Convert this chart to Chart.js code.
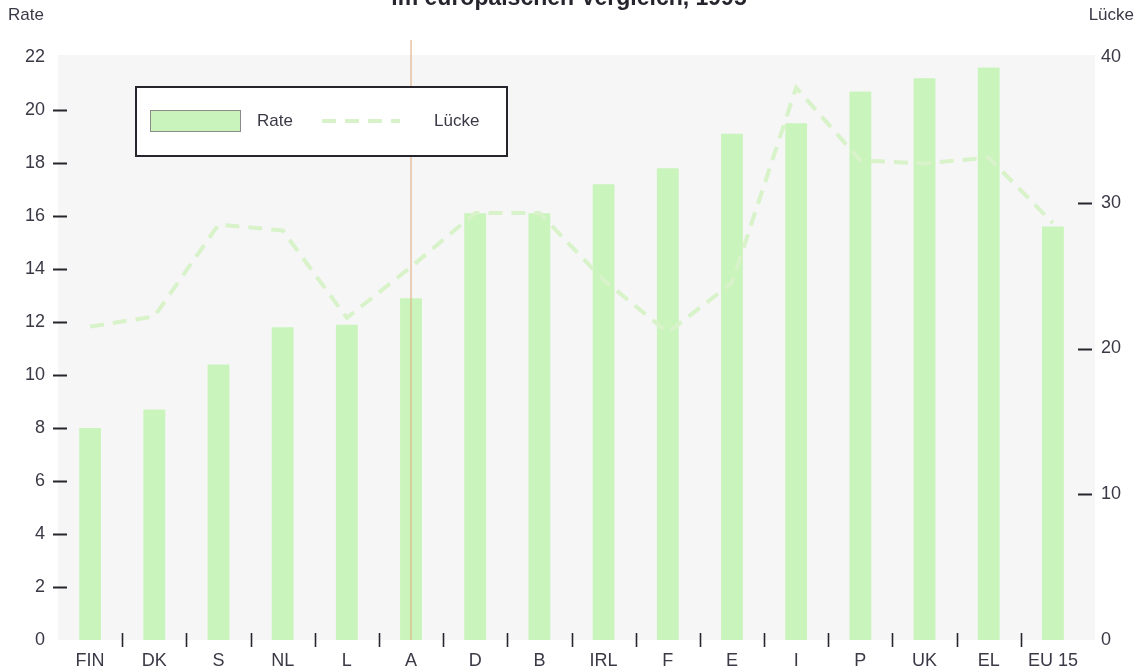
<!DOCTYPE html>
<html lang="de">
<head>
<meta charset="utf-8">
<title>Rate und Lücke</title>
<script src="https://cdn.jsdelivr.net/npm/chart.js@4/dist/chart.umd.min.js"></script>
<style>
  html, body { margin: 0; padding: 0; background: #fff; }
  #wrap { width: 1137px; height: 671px; position: relative; }
</style>
</head>
<body>
<div id="wrap"><canvas id="chart" width="1137" height="671"></canvas></div>
<script>
// categories and values
const countries = ['FIN', 'DK', 'S', 'NL', 'L', 'A', 'D', 'B', 'IRL', 'F', 'E', 'I', 'P', 'UK', 'EL', 'EU 15'];
const rate = [8.0, 8.7, 10.4, 11.8, 11.9, 12.9, 16.1, 16.1, 17.2, 17.8, 19.1, 19.5, 20.7, 21.2, 21.6, 15.6];
const luecke = [21.5, 22.2, 28.5, 28.1, 22.1, 25.6, 29.3, 29.3, 24.7, 21.1, 24.5, 37.9, 32.9, 32.7, 33.1, 28.6];
const rateTicks = [0, 2, 4, 6, 8, 10, 12, 14, 16, 18, 20, 22];
const lueckeTicks = [0, 10, 20, 30, 40];
const titleText = 'im europäischen Vergleich, 1995';

const FONT = '"Liberation Sans", Arial, Helvetica, sans-serif';
const TEXT = '#3a3946';
const INK = '#26252e';
const BAR = '#c9f4bb';
const LINE = '#d8f2c9';

// background, title, axis captions, tick dashes, separators, legend
const decor = {
  id: 'decor',
  beforeDatasetsDraw(chart) {
    const { ctx, chartArea: a } = chart;
    ctx.save();
    ctx.fillStyle = '#f6f6f6';
    ctx.fillRect(a.left, a.top - 2, a.right - a.left + 10, a.bottom - a.top + 2);
    ctx.restore();
  },
  afterDraw(chart) {
    const { ctx, chartArea: a, scales } = chart;
    const x = scales.x, y = scales.y, y2 = scales.y2;
    ctx.save();

    // fold line through A
    const xa = x.getPixelForValue(5);
    ctx.strokeStyle = 'rgba(226,180,140,0.8)';
    ctx.lineWidth = 1.5;
    ctx.beginPath();
    ctx.moveTo(xa, 40);
    ctx.lineTo(xa, a.bottom);
    ctx.stroke();

    // title, cut at the top edge
    ctx.fillStyle = INK;
    ctx.font = 'bold 23px ' + FONT;
    ctx.textAlign = 'center';
    ctx.textBaseline = 'alphabetic';
    ctx.fillText(titleText, 569, 5);

    // axis captions
    ctx.fillStyle = TEXT;
    ctx.font = '17px ' + FONT;
    ctx.textBaseline = 'middle';
    ctx.textAlign = 'left';
    ctx.fillText('Rate', 8, 15);
    ctx.textAlign = 'right';
    ctx.fillText('Lücke', 1134, 15);

    // short dashes next to the inner tick values
    ctx.strokeStyle = INK;
    ctx.lineWidth = 2;
    rateTicks.slice(1, -1).forEach(v => {
      const py = Math.round(y.getPixelForValue(v)) + 0.5;
      ctx.beginPath(); ctx.moveTo(53, py); ctx.lineTo(67, py); ctx.stroke();
    });
    lueckeTicks.slice(1, -1).forEach(v => {
      const py = Math.round(y2.getPixelForValue(v)) + 0.5;
      ctx.beginPath(); ctx.moveTo(1078, py); ctx.lineTo(1092, py); ctx.stroke();
    });

    // separators between categories
    ctx.lineWidth = 1.6;
    for (let i = 0; i < countries.length - 1; i++) {
      const px = Math.round((x.getPixelForValue(i) + x.getPixelForValue(i + 1)) / 2) + 0.5;
      ctx.beginPath(); ctx.moveTo(px, a.bottom - 7); ctx.lineTo(px, a.bottom + 7); ctx.stroke();
    }

    // legend
    const ds = chart.data.datasets;
    ctx.fillStyle = '#fff';
    ctx.fillRect(136, 87, 371, 69);
    ctx.strokeStyle = INK;
    ctx.lineWidth = 2;
    ctx.strokeRect(136, 87, 371, 69);
    ctx.fillStyle = ds[0].backgroundColor;
    ctx.fillRect(151, 111, 89, 20);
    ctx.strokeStyle = '#8a8a8a';
    ctx.lineWidth = 1;
    ctx.strokeRect(150.5, 110.5, 90, 21);
    ctx.strokeStyle = ds[1].borderColor;
    ctx.lineWidth = 4;
    ctx.setLineDash(ds[1].borderDash);
    ctx.beginPath(); ctx.moveTo(322, 121); ctx.lineTo(400, 121); ctx.stroke();
    ctx.setLineDash([]);
    ctx.fillStyle = TEXT;
    ctx.font = '17px ' + FONT;
    ctx.textAlign = 'left';
    ctx.fillText(ds[0].label, 257, 121);
    ctx.fillText(ds[1].label, 434, 121);
    ctx.restore();
  }
};

const ctx = document.getElementById('chart').getContext('2d');
const chart = new Chart(ctx, {
  type: 'bar',
  data: {
    labels: countries,
    datasets: [
      {
        label: 'Rate',
        data: rate,
        yAxisID: 'y',
        backgroundColor: BAR,
        borderWidth: 0,
        categoryPercentage: 1,
        barPercentage: 0.34,
        order: 2
      },
      {
        type: 'line',
        label: 'Lücke',
        data: luecke,
        yAxisID: 'y2',
        borderColor: LINE,
        borderWidth: 4,
        borderDash: [14, 9],
        pointRadius: 0,
        tension: 0,
        fill: false,
        order: 1
      }
    ]
  },
  options: {
    responsive: false,
    animation: false,
    events: [],
    layout: { padding: { top: 57, left: 0, right: 0, bottom: 0 } },
    plugins: { legend: { display: false }, tooltip: { enabled: false } },
    scales: {
      x: {
        offset: true,
        grid: { display: false, drawTicks: false },
        border: { display: false },
        ticks: { color: TEXT, font: { family: FONT, size: 18 }, padding: 10, maxRotation: 0, autoSkip: false },
        afterFit(s) { s.height = 31; }
      },
      y: {
        position: 'left',
        min: 0,
        max: 22,
        afterBuildTicks(s) { s.ticks = rateTicks.map(v => ({ value: v })); },
        grid: { display: false, drawTicks: false },
        border: { display: false },
        ticks: { color: TEXT, font: { family: FONT, size: 18 }, padding: 13 },
        afterFit(s) { s.width = 58; }
      },
      y2: {
        position: 'right',
        min: 0,
        max: 40,
        afterBuildTicks(s) { s.ticks = lueckeTicks.map(v => ({ value: v })); },
        grid: { display: false, drawTicks: false },
        border: { display: false },
        ticks: { color: TEXT, font: { family: FONT, size: 18 }, padding: 16 },
        afterFit(s) { s.width = 52; }
      }
    }
  },
  plugins: [decor]
});
</script>
</body>
</html>
